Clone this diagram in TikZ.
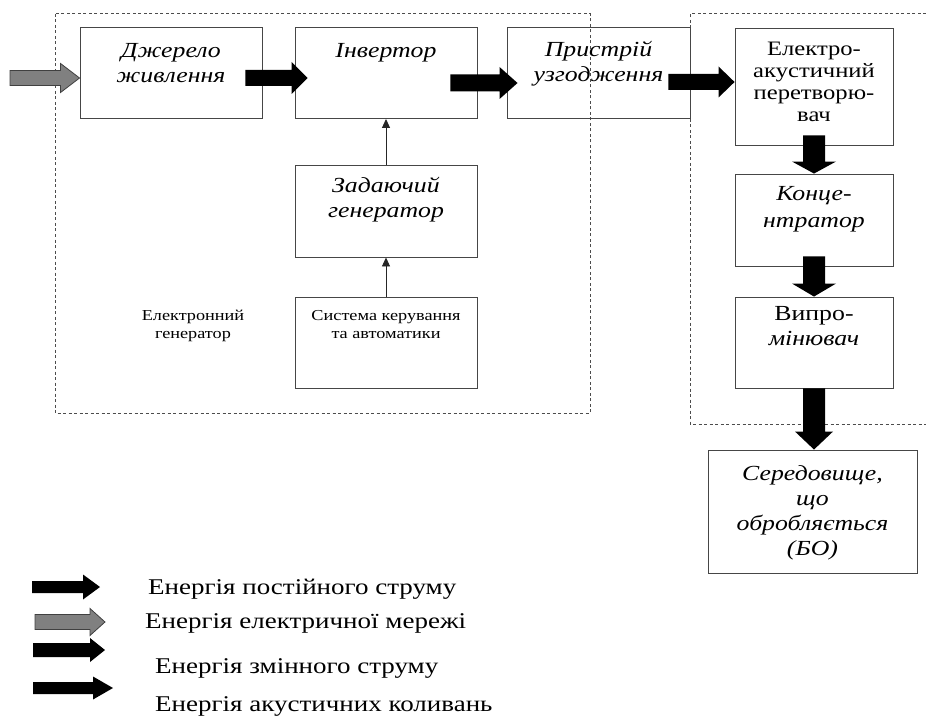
\documentclass[tikz,border=0pt]{standalone}
\usepackage{fontspec}
\setmainfont[FakeStretch=1.2]{Liberation Serif}
\usetikzlibrary{arrows.meta,calc}
\definecolor{arrowgray}{RGB}{128,128,128}
\definecolor{boxline}{RGB}{70,70,70}
\newcommand\hblock[6]{%
  \path[#1] let \p1=(#2), \p2=(#3) in
    (\x1,\y1+#4) -- (\x2-#6,\y1+#4) -- (\x2-#6,\y1+#5) -- (\x2,\y1)
    -- (\x2-#6,\y1-#5) -- (\x2-#6,\y1-#4) -- (\x1,\y1-#4) -- cycle;}
\newcommand\vblock[6]{%
  \path[#1] let \p1=(#2), \p2=(#3) in
    (\x1+#4,\y1) -- (\x1+#4,\y2+#6) -- (\x1+#5,\y2+#6) -- (\x1,\y2)
    -- (\x1-#5,\y2+#6) -- (\x1-#4,\y2+#6) -- (\x1-#4,\y1) -- cycle;}
\begin{document}
\begin{tikzpicture}[x=1pt,y=-1pt,
  box/.style={draw=boxline,line width=0.9pt,minimum width=182pt,minimum height=91pt,inner sep=0pt},
  itx/.style={font=\fontsize{21.5}{25}\selectfont\itshape,align=center,inner sep=0pt,anchor=base},
  upx/.style={font=\fontsize{15.2}{18}\selectfont,align=center,inner sep=0pt,anchor=base},
  eax/.style={font=\fontsize{20.5}{22.3}\selectfont,align=center,inner sep=0pt,anchor=base},
  lgx/.style={font=\fontsize{22.5}{26}\selectfont,inner sep=0pt,anchor=base west},
  blk/.style={fill=black},
  gry/.style={fill=arrowgray,draw=black!75,line width=0.8pt},
  thin/.style={draw=black!85,line width=0.9pt,-{Triangle[length=9pt,width=8pt]}},
  dsh/.style={draw=black!70,line width=1pt,dash pattern=on 3pt off 2.5pt}]
\useasboundingbox (0,0) rectangle (926,722);
% dashed groups
\draw[dsh] (55,14) rectangle (590,413);
\draw[dsh] (926,14) -- (690,14) -- (690,424) -- (926,424);
% boxes
\node[box] (src) at (171,73) {};
\node[box] (inv) at (386,73) {};
\node[box,minimum width=183pt] (match) at (598.5,73) {};
\node[box,minimum width=158pt,minimum height=117pt] (eat) at (814,86.5) {};
\node[box,minimum height=92pt] (gen) at (386,211) {};
\node[box] (ctl) at (386,342.5) {};
\node[box,minimum width=158pt,minimum height=92pt] (conc) at (814,220) {};
\node[box,minimum width=158pt] (rad) at (814,342.5) {};
\node[box,minimum width=209pt,minimum height=123pt] (med) at (812.5,511.5) {};
% texts (anchor = baseline of last line)
\node[itx] (t1) at (171,83) {Джерело\\живлення};
\node[itx] (t2) at (386,58) {Інвертор};
\node[itx] (t3) at (598.5,82) {Пристрій\\узгодження};
\node[eax] (t4) at (814,122) {Електро-\\акустичний\\перетворю-\\вач};
\node[itx] (t5) at (386,218) {Задаючий\\генератор};
\node[upx] (t6) at (386,338) {Система керування\\та автоматики};
\node[upx] (t7) at (193,338) {Електронний\\генератор};
\node[itx,font=\fontsize{21.5}{28}\selectfont\itshape] (t8) at (814,228) {Конце-\\нтратор};
\node[itx] (t9) at (814,345) {\upshape Випро-\\мінювач};
\node[itx] (t10) at (812.5,555) {Середовище,\\що\\обробляється\\(БО)};
% input arrow
\coordinate (in) at (10,78);
\hblock{gry}{in}{[yshift=-5pt]src.west}{7.5pt}{14.5pt}{19pt}
% horizontal energy arrows
\hblock{blk}{[xshift=-17pt,yshift=-5pt]src.east}{[xshift=13pt,yshift=-5pt]inv.west}{8pt}{16pt}{16pt}
\hblock{blk}{[xshift=-27pt,yshift=-10pt]inv.east}{[xshift=11pt,yshift=-10pt]match.west}{8.5pt}{16pt}{18pt}
\hblock{blk}{[xshift=-22pt,yshift=-9pt]match.east}{[yshift=-4.5pt]eat.west}{8pt}{15.5pt}{16pt}
% vertical arrows
\vblock{blk}{[yshift=10pt]eat.south}{conc.north}{11pt}{22pt}{12pt}
\vblock{blk}{[yshift=10pt]conc.south}{rad.north}{11pt}{22pt}{13pt}
\vblock{blk}{rad.south}{[xshift=-1.5pt]med.north}{11pt}{19pt}{18pt}
% thin arrows
\draw[thin] (gen.north) -- (inv.south);
\draw[thin] (ctl.north) -- (gen.south);
% legend
\coordinate (l1s) at (32,587); \coordinate (l1e) at (100,587);
\coordinate (l2s) at (35,622); \coordinate (l2e) at (105,622);
\coordinate (l3s) at (33,650); \coordinate (l3e) at (105,650);
\coordinate (l4s) at (33,688); \coordinate (l4e) at (113,688);
\hblock{blk}{l1s}{l1e}{6pt}{12.5pt}{17pt}
\hblock{gry}{l2s}{l2e}{7.5pt}{13.5pt}{15pt}
\hblock{blk}{l3s}{l3e}{7pt}{12pt}{15pt}
\hblock{blk}{l4s}{l4e}{6pt}{11.5pt}{20pt}
\node[lgx] (g1) at (148,594) {Енергія постійного струму};
\node[lgx] (g2) at (145,628) {Енергія електричної мережі};
\node[lgx] (g3) at (155,673) {Енергія змінного струму};
\node[lgx] (g4) at (155,711) {Енергія акустичних коливань};
\end{tikzpicture}
\end{document}
